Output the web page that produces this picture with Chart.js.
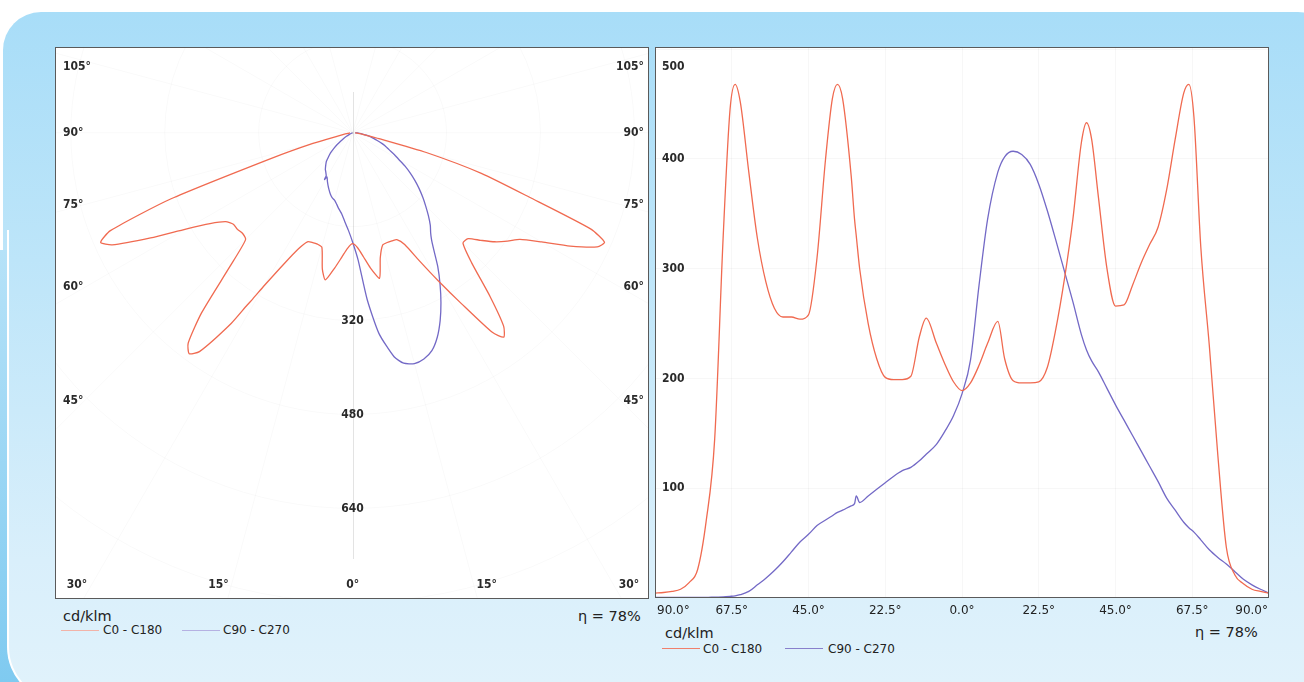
<!DOCTYPE html>
<html>
<head>
<meta charset="utf-8">
<title>Photometric diagram</title>
<script src="https://cdn.jsdelivr.net/npm/chart.js@4"></script>
<style>
  body { margin: 0; width: 1304px; height: 682px; overflow: hidden; background: #fff; position: relative; font-family: 'DejaVu Sans', sans-serif; color: #222; }
  .bg { position: absolute; left: 3px; top: 12px; width: 1340px; height: 700px; border-radius: 38px 45px 0 0;
        background: linear-gradient(to bottom, #a8ddf8 12px, #bde5f9 260px, #d9effb 560px, #e0f2fb 682px) fixed; }
  .strip { position: absolute; left: 0; top: 250px; width: 80px; height: 432px; background: linear-gradient(to bottom, #b6e2f8, #7fcaf0); }
  .inner { position: absolute; left: 7px; top: 230px; width: 500px; height: 470px; border-left: 2px solid #fff; border-bottom: 2px solid #fff;
           border-bottom-left-radius: 55px; background: linear-gradient(to bottom, #a8ddf8 12px, #bde5f9 260px, #d9effb 560px, #e0f2fb 682px) fixed; }
  canvas { position: absolute; }
  .txt { position: absolute; white-space: nowrap; }
  .unit { font-size: 14.5px; line-height: 18px; }
  .eta { font-size: 14.5px; line-height: 18px; }
  .leg { font-size: 12px; line-height: 14px; }
  .swatch { position: absolute; height: 1px; }
</style>
</head>
<body>
<div class="bg"></div>
<div class="strip"></div>
<div class="inner"></div>

<canvas id="polarChart" width="594" height="552" style="left:55px;top:47px"></canvas>
<canvas id="linearChart" width="614" height="576" style="left:655px;top:47px"></canvas>

<div class="txt unit" style="left:63px;top:607px">cd/klm</div>
<div class="txt eta" style="left:578px;top:607px" id="eta1"></div>
<div class="swatch" style="left:61px;top:630px;width:38px;background:#f2b3a8"></div>
<div class="txt leg" style="left:103px;top:623px" id="lg1a"></div>
<div class="swatch" style="left:182px;top:630px;width:38px;background:#b5b1e2"></div>
<div class="txt leg" style="left:223px;top:623px" id="lg1b"></div>

<div class="txt unit" style="left:665px;top:624px">cd/klm</div>
<div class="txt eta" style="left:1195px;top:623px" id="eta2"></div>
<div class="swatch" style="left:662px;top:648px;width:38px;background:#f0806c"></div>
<div class="txt leg" style="left:703px;top:642px" id="lg2a"></div>
<div class="swatch" style="left:785px;top:648px;width:38px;background:#8880cc"></div>
<div class="txt leg" style="left:828px;top:642px" id="lg2b"></div>

<script>
// Data (gamma angle in degrees, intensity in cd/klm)
const gammaAngles = [-90, -87.5, -85, -82.5, -80, -77.5, -75, -72.5, -70, -68, -66.5, -65, -62.5, -60, -57.5, -55, -52.5, -50, -47.5, -45,
  -42.5, -40, -38, -36.5, -35, -32.5, -31.5, -31, -30, -27.5, -25, -22.5, -20, -17.5, -15, -12.5, -10.5, -7.5, -5, -2.5,
  0, 2.5, 5, 7.5, 10.5, 12.5, 15, 17.5, 20, 22.5, 25, 27.5, 30, 32.5, 35, 36.5, 38, 40, 42.5, 45,
  47.5, 50, 52.5, 55, 57.5, 60, 62.5, 65, 66.5, 68, 70, 72.5, 75, 77.5, 80, 82.5, 85, 87.5, 90];

const c0c180 = [4.5, 5, 6, 8, 14, 26, 70, 145, 330, 445, 468, 452, 388, 328, 288, 264, 256, 256, 254, 258,
  310, 400, 455, 468, 455, 385, 345, 330, 300, 250, 218, 201, 199, 199, 202, 238, 255, 232, 213, 197,
  189, 196, 212, 232, 252, 218, 198, 196, 196, 197, 210, 245, 290, 345, 415, 433, 418, 365, 300, 266,
  267, 285, 305, 322, 338, 372, 418, 460, 468, 438, 320, 230, 130, 46, 21, 13, 8, 6, 4.5];

const c90c270 = [0.5, 0.5, 0.5, 0.5, 0.5, 0.5, 0.5, 0.8, 1, 1.5, 2, 3, 6, 12, 18, 25, 33, 42, 51, 58,
  66, 71, 75, 78, 80, 84, 86, 93, 87, 93, 99, 105, 111, 116, 119, 125, 131, 140, 152, 166,
  186, 217, 285, 345, 388, 402, 407, 404, 395, 377, 353, 326, 298, 270, 240, 226, 216, 206, 191, 176,
  162, 148, 134, 120, 106, 91, 80, 69, 64, 60, 53, 44, 37, 31, 24, 17, 12, 8, 4.5];

const seriesNames = ['C0 - C180', 'C90 - C270'];
const efficiency = 'η = 78%';

const xTickValues = [-90, -67.5, -45, -22.5, 0, 22.5, 45, 67.5, 90];
const yTickValues = [100, 200, 300, 400, 500];
const radialTicks = [320, 480, 640];
const sideAngleTicks = [105, 90, 75, 60, 45];
const bottomAngleTicks = [-30, -15, 0, 15, 30];

const RED = '#f06a50';
const BLUE = '#7369c6';
const labelFont = "bold 12px 'DejaVu Sans Condensed', 'DejaVu Sans', sans-serif";

document.getElementById('eta1').textContent = efficiency;
document.getElementById('eta2').textContent = efficiency;
document.getElementById('lg1a').textContent = seriesNames[0];
document.getElementById('lg1b').textContent = seriesNames[1];
document.getElementById('lg2a').textContent = seriesNames[0];
document.getElementById('lg2b').textContent = seriesNames[1];

function toPolar(values) {
  return gammaAngles.map((g, i) => {
    const a = g * Math.PI / 180;
    return { x: values[i] * Math.sin(a), y: -values[i] * Math.cos(a) };
  });
}

function toLinear(values) {
  return gammaAngles.map((g, i) => ({ x: g, y: values[i] }));
}

// white plot background + dark frame
const framePlugin = {
  id: 'frame',
  beforeDraw(chart) {
    const { ctx, chartArea: a } = chart;
    ctx.save();
    ctx.fillStyle = '#fff';
    ctx.fillRect(a.left, a.top, a.right - a.left, a.bottom - a.top);
    ctx.restore();
  },
  afterDraw(chart) {
    const { ctx, chartArea: a } = chart;
    ctx.save();
    ctx.strokeStyle = '#5a5a5a';
    ctx.lineWidth = 1;
    ctx.strokeRect(a.left + 0.5, a.top + 0.5, a.right - a.left - 1, a.bottom - a.top - 1);
    ctx.restore();
  }
};

// faint polar grid and its labels
const polarGrid = {
  id: 'polarGrid',
  beforeDatasetsDraw(chart) {
    const { ctx, chartArea: a, scales: { x, y } } = chart;
    const cx = x.getPixelForValue(0), cy = y.getPixelForValue(0);
    const k = x.getPixelForValue(100) - cx;
    ctx.save();
    ctx.beginPath();
    ctx.rect(a.left, a.top, a.right - a.left, a.bottom - a.top);
    ctx.clip();
    ctx.lineWidth = 1;
    ctx.strokeStyle = 'rgba(0,0,0,0.022)';
    for (let r = 160; r <= 960; r += 160) {
      ctx.beginPath();
      ctx.arc(cx, cy, r * k / 100, 0, Math.PI * 2);
      ctx.stroke();
    }
    for (let g = 15; g < 180; g += 15) {
      const t = g * Math.PI / 180, L = 2000;
      ctx.beginPath();
      ctx.moveTo(cx - L * Math.sin(t), cy + L * Math.cos(t));
      ctx.lineTo(cx + L * Math.sin(t), cy - L * Math.cos(t));
      ctx.stroke();
    }
    ctx.strokeStyle = 'rgba(0,0,0,0.11)';
    ctx.beginPath();
    ctx.moveTo(Math.round(cx) + 0.5, a.top + 45);
    ctx.lineTo(Math.round(cx) + 0.5, a.bottom - 40);
    ctx.stroke();
    ctx.restore();
  },
  afterDatasetsDraw(chart) {
    const { ctx, chartArea: a, scales: { x, y } } = chart;
    const cx = x.getPixelForValue(0);
    ctx.save();
    ctx.font = labelFont;
    ctx.fillStyle = '#2a2a2a';
    ctx.textBaseline = 'middle';
    ctx.textAlign = 'center';
    radialTicks.forEach(r => ctx.fillText(String(r), cx, y.getPixelForValue(-r)));
    sideAngleTicks.forEach(deg => {
      const t = deg * Math.PI / 180;
      const yv = -456 * Math.cos(t) / Math.sin(t);
      const py = Math.max(y.getPixelForValue(yv), a.top + 20);
      ctx.textAlign = 'left';
      ctx.fillText(deg + '°', a.left + 8, py);
      ctx.textAlign = 'right';
      ctx.fillText(deg + '°', a.right - 5, py);
    });
    ctx.textAlign = 'center';
    bottomAngleTicks.forEach(deg => {
      const xv = 853 * Math.tan(deg * Math.PI / 180);
      const px = Math.min(Math.max(x.getPixelForValue(xv), a.left + 22), a.right - 20);
      ctx.fillText(Math.abs(deg) + '°', px, a.bottom - 14);
    });
    ctx.restore();
  }
};

// axis labels of the linear chart: y inside the plot, x below it
const linearLabels = {
  id: 'linearLabels',
  afterDraw(chart) {
    const { ctx, chartArea: a, scales: { x, y } } = chart;
    ctx.save();
    ctx.font = labelFont;
    ctx.fillStyle = '#2a2a2a';
    ctx.textBaseline = 'middle';
    ctx.textAlign = 'left';
    yTickValues.forEach(v => {
      const py = Math.max(y.getPixelForValue(v), a.top + 20);
      ctx.fillText(String(v), a.left + 7, py);
    });
    ctx.font = "12px 'DejaVu Sans', sans-serif";
    ctx.fillStyle = '#222';
    xTickValues.forEach((v, i) => {
      ctx.textAlign = i === 0 ? 'left' : (i === xTickValues.length - 1 ? 'right' : 'center');
      const px = i === 0 ? a.left + 2 : (i === xTickValues.length - 1 ? a.right - 1 : x.getPixelForValue(v));
      ctx.fillText(Math.abs(v).toFixed(1) + '°', px, a.bottom + 13);
    });
    ctx.restore();
  }
};

new Chart(document.getElementById('polarChart'), {
  type: 'scatter',
  data: {
    datasets: [
      { label: seriesNames[0], data: toPolar(c0c180), showLine: true, borderColor: RED, borderWidth: 1.3, pointRadius: 0, tension: 0.2 },
      { label: seriesNames[1], data: toPolar(c90c270), showLine: true, borderColor: BLUE, borderWidth: 1.3, pointRadius: 0, tension: 0.2 }
    ]
  },
  options: {
    responsive: false,
    animation: false,
    layout: { padding: 0, autoPadding: false },
    plugins: { legend: { display: false }, tooltip: { enabled: false } },
    scales: {
      x: { type: 'linear', display: false, min: -507, max: 505 },
      y: { type: 'linear', display: false, min: -794, max: 146 }
    }
  },
  plugins: [framePlugin, polarGrid]
});

new Chart(document.getElementById('linearChart'), {
  type: 'line',
  data: {
    datasets: [
      { label: seriesNames[0], data: toLinear(c0c180), borderColor: RED, borderWidth: 1.3, pointRadius: 0, cubicInterpolationMode: 'monotone' },
      { label: seriesNames[1], data: toLinear(c90c270), borderColor: BLUE, borderWidth: 1.3, pointRadius: 0, cubicInterpolationMode: 'monotone' }
    ]
  },
  options: {
    responsive: false,
    animation: false,
    layout: { padding: 0, autoPadding: false },
    plugins: { legend: { display: false }, tooltip: { enabled: false } },
    scales: {
      x: {
        type: 'linear', min: -90, max: 90,
        afterBuildTicks(s) { s.ticks = xTickValues.map(v => ({ value: v })); },
        afterFit(s) { s.height = 25; s.paddingLeft = 0; s.paddingRight = 0; },
        grid: { color: 'rgba(0,0,0,0.03)', drawTicks: false },
        border: { display: false },
        ticks: { display: false }
      },
      y: {
        type: 'linear', min: 0, max: 502,
        afterBuildTicks(s) { s.ticks = yTickValues.map(v => ({ value: v })); },
        afterFit(s) { s.width = 0; },
        grid: { color: 'rgba(0,0,0,0.03)', drawTicks: false },
        border: { display: false },
        ticks: { display: false }
      }
    }
  },
  plugins: [framePlugin, linearLabels]
});
</script>
</body>
</html>
